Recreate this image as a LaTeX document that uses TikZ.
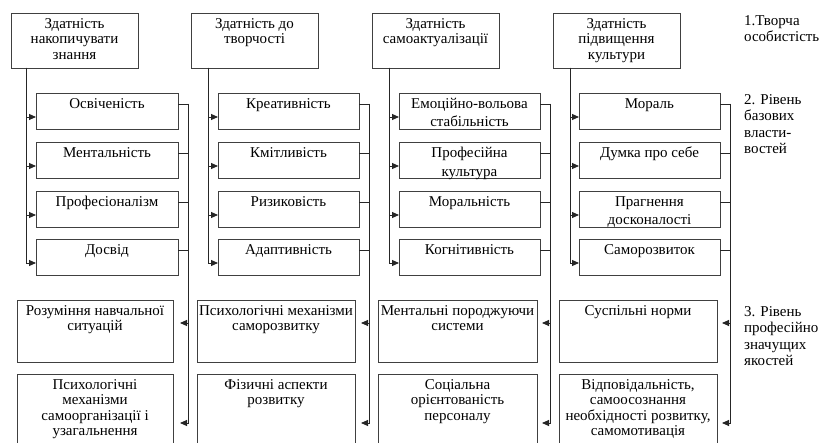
\documentclass[tikz,border=0pt]{standalone}
\usepackage{fontspec}
\setmainfont{Liberation Serif}
\usetikzlibrary{arrows.meta}
\newcommand\B[7]{%
  \node[box,minimum width=#4pt,minimum height=#5pt,anchor=north west] (#1) at (#2,#3) {};
  \node[#6,anchor=north] (#1t) at ([yshift=-5pt]#1.north) {#7};}
\begin{document}
\begin{tikzpicture}[x=1pt,y=-1pt,
  box/.style={draw=black!75,line width=0.9pt,inner sep=0pt,outer sep=0pt},
  txt/.style={inner sep=0pt,align=center,font=\fontsize{15}{15.5}\selectfont},
  midtxt/.style={inner sep=0pt,align=center,font=\fontsize{15}{18.5}\selectfont},
  ln/.style={draw=black!85,line width=0.9pt},
  arr/.style={ln,-{Triangle[length=7pt,width=6pt]}},
  side/.style={anchor=north west,inner sep=0pt,align=left,font=\fontsize{15}{16.5}\selectfont}]
\useasboundingbox (0,0) rectangle (821,443);
\clip (0,0) rectangle (821,443);
% top boxes
\B{t1}{11}{13}{127}{55}{txt}{Здатність\\накопичувати\\знання}
\B{t2}{191}{13}{127}{55}{txt}{Здатність до\\творчості}
\B{t3}{372}{13}{127}{55}{txt}{Здатність\\самоактуалізації}
\B{t4}{553}{13}{127}{55}{txt}{Здатність\\підвищення\\культури}
% middle boxes col 1
\B{m11}{36}{93}{142}{36}{midtxt}{Освіченість}
\B{m12}{36}{142}{142}{36}{midtxt}{Ментальність}
\B{m13}{36}{191}{142}{36}{midtxt}{Професіоналізм}
\B{m14}{36}{239}{142}{36}{midtxt}{Досвід}
% col 2
\B{m21}{218}{93}{141}{36}{midtxt}{Креативність}
\B{m22}{218}{142}{141}{36}{midtxt}{Кмітливість}
\B{m23}{218}{191}{141}{36}{midtxt}{Ризиковість}
\B{m24}{218}{239}{141}{36}{midtxt}{Адаптивність}
% col 3
\B{m31}{399}{93}{141}{36}{midtxt}{Емоційно-вольова\\стабільність}
\B{m32}{399}{142}{141}{36}{midtxt}{Професійна\\культура}
\B{m33}{399}{191}{141}{36}{midtxt}{Моральність}
\B{m34}{399}{239}{141}{36}{midtxt}{Когнітивність}
% col 4
\B{m41}{579}{93}{141}{36}{midtxt}{Мораль}
\B{m42}{579}{142}{141}{36}{midtxt}{Думка про себе}
\B{m43}{579}{191}{141}{36}{midtxt}{Прагнення\\досконалості}
\B{m44}{579}{239}{141}{36}{midtxt}{Саморозвиток}
% bottom boxes
\B{b11}{17}{300}{156}{62}{txt}{Розуміння навчальної\\ситуацій}
\B{b12}{17}{374}{156}{80}{txt}{Психологічні\\механізми\\самоорганізації і\\узагальнення}
\B{b21}{197}{300}{158}{62}{txt}{Психологічні механізми\\саморозвитку}
\B{b22}{197}{374}{158}{80}{txt}{Фізичні аспекти\\розвитку}
\B{b31}{378}{300}{159}{62}{txt}{Ментальні породжуючи\\системи}
\B{b32}{378}{374}{159}{80}{txt}{Соціальна\\орієнтованість\\персоналу}
\B{b41}{559}{300}{158}{62}{txt}{Суспільні норми}
\B{b42}{559}{374}{158}{80}{txt}{Відповідальність,\\самоосознання\\необхідності розвитку,\\самомотивація}
% side labels
\node[side] (s1) at (744,15) {1.Творча\\особистість};
\node[side] (s2) at (744,94) {2. Рівень\\базових\\власти-\\востей};
\node[side] (s3) at (744,306) {3. Рівень\\професійно\\значущих\\якостей};
% connectors
\foreach \c/\o in {1/15,2/17,3/17,4/17}{
  \coordinate (v\c) at ([xshift=\o pt]t\c.south west);
  \foreach \r in {1,2,3,4}{
    \draw[arr] (v\c) |- ([yshift=-6pt]m\c\r.west);
    \draw[ln] ([yshift=7pt]m\c\r.east) -- ++(10,0);
  }
  \coordinate (bus\c) at ([xshift=10pt,yshift=7pt]m\c1.east);
  \coordinate (a\c1) at ([yshift=8pt]b\c1.east);
  \coordinate (a\c2) at ([yshift=-9pt]b\c2.east);
  \draw[arr] (bus\c) -- (bus\c |- a\c1) -- ++(-8,0);
  \draw[arr] (bus\c) -- (bus\c |- a\c2) -- ++(-8,0);
}
\end{tikzpicture}
\end{document}
